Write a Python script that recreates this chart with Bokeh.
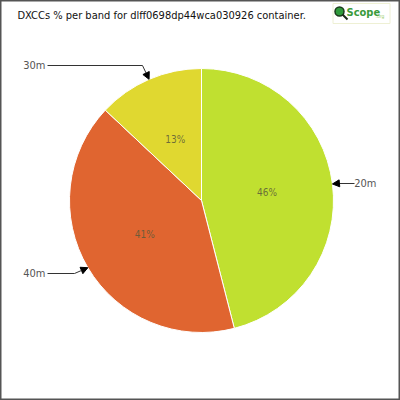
import math
from bokeh.plotting import figure
from bokeh.models import Range1d, Arrow, NormalHead, ColumnDataSource
from bokeh.core.properties import value
from bokeh.embed import file_html
from bokeh.resources import INLINE

# ---- data ----
bands = ["20m", "40m", "30m"]
percent = [46, 41, 13]
colors = ["#c0e030", "#e06530", "#e0d830"]
title_text = "DXCCs % per band for dlff0698dp44wca030926 container."

# ---- layout (page pixel coordinates, y down) ----
W = H = 400
CX, CY, R = 201, 200, 132

def X(px):
    return px

def Y(py):
    return H - py

p = figure(width=W, height=H, output_backend="svg", toolbar_location=None,
           x_range=Range1d(0, W), y_range=Range1d(0, H),
           min_border=0, outline_line_color="#555555", outline_line_width=2,
           background_fill_color="white", border_fill_color="white")
p.axis.visible = False
p.grid.visible = False

total = sum(percent)
starts, ends, mids = [], [], []
cum = 0.0
for v in percent:
    a0 = math.pi / 2 - 2 * math.pi * cum / total
    cum += v
    a1 = math.pi / 2 - 2 * math.pi * cum / total
    starts.append(a0)
    ends.append(a1)
    mids.append((a0 + a1) / 2)

src = ColumnDataSource(dict(x=[X(CX)] * 3, y=[Y(CY)] * 3, start=starts, end=ends, color=colors))
p.wedge(x="x", y="y", radius=R, start_angle="start", end_angle="end", direction="clock",
        fill_color="color", line_color="white", line_width=1, source=src)

font = value("DejaVu Sans Condensed")

# percentage labels
lx = [X(CX) + 0.5 * R * math.cos(m) for m in mids]
ly = [Y(CY) + 0.5 * R * math.sin(m) for m in mids]
p.text(x=lx, y=ly, text=[f"{v}%" for v in percent], text_align="center",
       text_baseline="middle", text_font=font, text_font_size="10px",
       text_color="#5a5a3a", text_alpha=0.85)

# callouts: label position and elbow for each band
label_x = [376, 45, 45]
label_y = [183, 273, 65]
label_align = ["right", "right", "right"]
elbow_x = [337, 74, 142]
elbow_y = [183, 273, 65]
line_start_x = [354, 47, 47]
for i in range(3):
    tipx = X(CX) + R * math.cos(mids[i])
    tipy = Y(CY) + R * math.sin(mids[i])
    p.line([X(line_start_x[i]), X(elbow_x[i])], [Y(label_y[i]), Y(elbow_y[i])],
           line_color="#333333", line_width=1)
    p.add_layout(Arrow(end=NormalHead(size=7, fill_color="black", line_color="black"),
                       x_start=X(elbow_x[i]), y_start=Y(elbow_y[i]),
                       x_end=tipx, y_end=tipy, line_color="#333333", line_width=1))
p.text(x=[X(v) for v in label_x], y=[Y(v) for v in label_y], text=bands,
       text_align=label_align, text_baseline="middle", text_font=font,
       text_font_size="11px", text_color="#555555")

# title
p.text(x=[X(17)], y=[Y(15)], text=[title_text], text_align="left", text_baseline="middle",
       text_font=font, text_font_size="11px", text_color="#111111")

# logo
p.rect(x=[X(361)], y=[Y(13)], width=57, height=20, fill_color="white",
       line_color="#eef0d4", line_width=1)
p.circle(x=[X(339)], y=[Y(11)], radius=4.5, fill_color="#2e9a3a", line_color="#1a3a1a", line_width=1.5)
p.line([X(342), X(347)], [Y(14), Y(19)], line_color="#1a2a1a", line_width=2)
p.text(x=[X(346)], y=[Y(12)], text=["Scope"], text_align="left", text_baseline="middle",
       text_font=value("DejaVu Sans Condensed"), text_font_size="11px",
       text_font_style="bold", text_color="#3a9a3a")
p.text(x=[X(375)], y=[Y(15)], text=[".org"], text_align="left", text_baseline="middle",
       text_font=font, text_font_size="5px", text_color="#9acd6a")

open("out.html", "w").write(file_html(p, INLINE))
